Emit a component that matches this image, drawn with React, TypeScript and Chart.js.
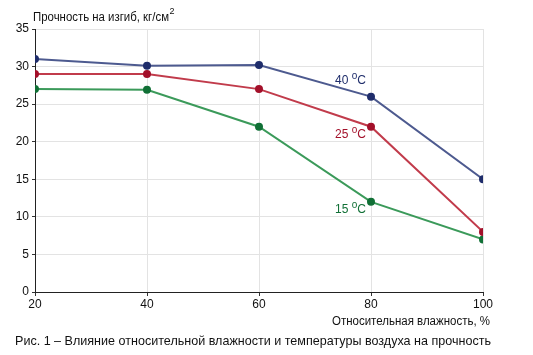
import React, { useEffect, useRef } from "react";
import { Chart, registerables } from "chart.js";

Chart.register(...registerables);

const humidity = [20, 40, 60, 80, 100];
const series40 = [31, 30.1, 30.2, 26, 15];
const series25 = [29, 29, 27, 22, 8];
const series15 = [27, 26.9, 22, 12, 7];
const seriesNames = ["40", "25", "15"];
const yTitle = "Прочность на изгиб, кг/см";
const xTitle = "Относительная влажность, %";
const caption = "Рис. 1 – Влияние относительной влажности и температуры воздуха на прочность";

const FONT = "'Liberation Sans', Arial, sans-serif";

const labelStyle = [
  { color: "#1f2d6b", dy: -13 },
  { color: "#a3102a", dy: 11 },
  { color: "#117036", dy: 11 },
];

const textPlugin = {
  id: "texts",
  afterDatasetsDraw(chart: any) {
    const ctx = chart.ctx;
    ctx.save();
    chart.data.datasets.forEach((ds: any, i: number) => {
      const meta = chart.getDatasetMeta(i);
      const pt = meta.data[3];
      const st = labelStyle[i];
      ctx.fillStyle = st.color;
      ctx.textBaseline = "alphabetic";
      const right = pt.x - 5;
      const base = pt.y + st.dy;
      ctx.font = "12px " + FONT;
      const wC = ctx.measureText("C").width;
      ctx.font = "10px " + FONT;
      const wO = ctx.measureText("o").width;
      ctx.font = "12px " + FONT;
      const wNum = ctx.measureText(seriesNames[i] + " ").width;
      const start = right - wC - wO - wNum;
      ctx.textAlign = "left";
      ctx.fillText(seriesNames[i] + " ", start, base);
      ctx.font = "10px " + FONT;
      ctx.fillText("o", start + wNum, base - 5);
      ctx.font = "12px " + FONT;
      ctx.fillText("C", start + wNum + wO, base);
    });
    ctx.restore();
  },
  afterDraw(chart: any) {
    const ctx = chart.ctx;
    const area = chart.chartArea;
    ctx.save();
    ctx.fillStyle = "#111";
    ctx.textAlign = "left";
    ctx.textBaseline = "alphabetic";
    ctx.font = "12px " + FONT;
    const w = Math.min(ctx.measureText(yTitle).width, 136);
    ctx.fillText(yTitle, 33, 21, 136);
    ctx.font = "9px " + FONT;
    ctx.fillText("2", 33 + w + 0.5, 14);
    ctx.font = "12px " + FONT;
    ctx.textAlign = "right";
    ctx.fillText(xTitle, area.right + 7, 325, 158);
    ctx.textAlign = "left";
    ctx.font = "13px " + FONT;
    ctx.fillText(caption, 15, 345, 476);
    ctx.restore();
  },
};

export default function App() {
  const ref = useRef<HTMLCanvasElement>(null);
  useEffect(() => {
    if (!ref.current) return;
    const mk = (data: number[], line: string, point: string) => ({
      data: humidity.map((x, i) => ({ x, y: data[i] })),
      borderColor: line,
      backgroundColor: point,
      pointBackgroundColor: point,
      pointBorderColor: point,
      borderWidth: 2,
      pointRadius: 3,
      pointHoverRadius: 3,
      tension: 0,
    });
    const chart = new Chart(ref.current, {
      type: "line",
      data: {
        datasets: [
          mk(series40, "#4d5a8f", "#1f2d6b"),
          mk(series25, "#c13b4b", "#a3102a"),
          mk(series15, "#3b9a5a", "#117036"),
        ],
      },
      options: {
        animation: false,
        responsive: false,
        layout: { padding: { top: 29, right: 50, left: 0, bottom: 0 } },
        plugins: { legend: { display: false }, tooltip: { enabled: false } },
        scales: {
          x: {
            type: "linear",
            min: 20,
            max: 100,
            afterFit: (s: any) => {
              s.height = 63;
            },
            ticks: {
              stepSize: 20,
              color: "#111",
              font: { family: FONT, size: 12 },
              padding: 1,
            },
            grid: {
              color: (c: any) => (c.tick && c.tick.value === 20 ? "rgba(0,0,0,0)" : "#e3e3e3"),
              tickColor: "#333",
              tickLength: 4,
              lineWidth: 1,
            },
            border: { color: "#222", width: 1 },
          },
          y: {
            min: 0,
            max: 35,
            afterFit: (s: any) => {
              s.width = 35;
            },
            ticks: {
              stepSize: 5,
              color: "#111",
              font: { family: FONT, size: 12 },
              padding: 3,
            },
            grid: {
              color: (c: any) => (c.tick && c.tick.value === 0 ? "rgba(0,0,0,0)" : "#e3e3e3"),
              tickColor: "#333",
              tickLength: 3,
              lineWidth: 1,
            },
            border: { color: "#222", width: 1 },
          },
        },
      },
      plugins: [textPlugin],
    });
    return () => chart.destroy();
  }, []);
  return (
    <div style={{ position: "fixed", left: 0, top: 0, width: 533, height: 355, background: "#fff" }}>
      <canvas ref={ref} width={533} height={355} style={{ display: "block" }} />
    </div>
  );
}
